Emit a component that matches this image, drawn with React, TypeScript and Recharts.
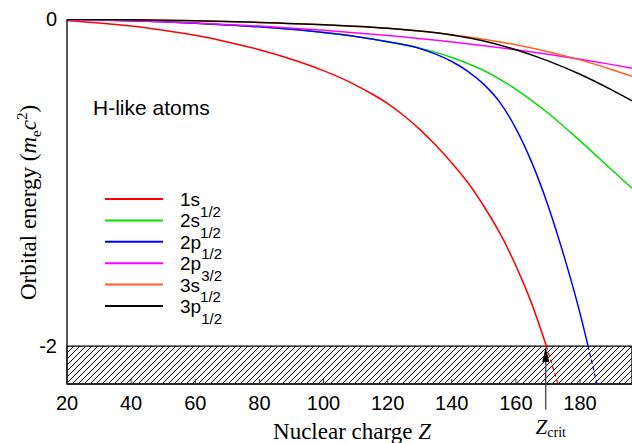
import React from 'react';
import { LineChart, Line, XAxis, YAxis, ReferenceArea, ReferenceLine } from 'recharts';

// ---- axes ----
const zDomain: [number, number] = [20, 196.2];
const eDomain: [number, number] = [-2.232, 0];
const xTicks = [20, 40, 60, 80, 100, 120, 140, 160, 180];
const yTicks = [0, -2];
const continuumEdge = -2;
const zCrit = 169.3;
const arrowTailE = -2.39;

// ---- series ----
const z1s = [20, 30, 40, 50, 60, 70, 80, 90, 100, 110, 115, 120, 125, 130, 135, 140, 145, 150, 155, 160, 165, 169.5];
const e1s = [-0.011, -0.024, -0.043, -0.069, -0.1, -0.14, -0.188, -0.246, -0.316, -0.404, -0.457, -0.517, -0.59, -0.675, -0.772, -0.88, -1.0, -1.145, -1.31, -1.51, -1.745, -2.0];
const z1sTail = [169.5, 173.1];
const e1sTail = [-2.0, -2.232];

const z2s = [20, 30, 40, 50, 60, 70, 80, 90, 100, 110, 120, 130, 140, 150, 160, 170, 180, 190, 196.2];
const e2s = [-0.0027, -0.006, -0.011, -0.017, -0.0256, -0.036, -0.048, -0.063, -0.0825, -0.107, -0.139, -0.178, -0.235, -0.315, -0.43, -0.575, -0.745, -0.925, -1.035];

const z2p1 = [20, 30, 40, 50, 60, 70, 80, 90, 100, 110, 120, 130, 135, 140, 145, 150, 155, 160, 165, 170, 175, 180, 182.5];
const e2p1 = [-0.0027, -0.006, -0.011, -0.017, -0.0256, -0.036, -0.048, -0.063, -0.0825, -0.107, -0.139, -0.18, -0.215, -0.26, -0.32, -0.4, -0.51, -0.67, -0.88, -1.14, -1.45, -1.8, -2.0];
const z2p1Tail = [182.5, 185.3];
const e2p1Tail = [-2.0, -2.232];

const z2p3 = [20, 40, 60, 80, 100, 120, 140, 160, 170, 180, 190, 196.2];
const e2p3 = [-0.0027, -0.0107, -0.0242, -0.0435, -0.0689, -0.1009, -0.1403, -0.188, -0.2156, -0.246, -0.279, -0.301];

const z3s = [20, 40, 60, 80, 100, 120, 130, 140, 150, 160, 170, 180, 190, 196.2];
const e3s = [-0.0012, -0.0048, -0.0112, -0.0209, -0.035, -0.057, -0.074, -0.096, -0.124, -0.158, -0.2, -0.25, -0.31, -0.35];

const z3p = [20, 40, 60, 80, 100, 120, 130, 140, 150, 160, 170, 180, 190, 196.2];
const e3p = [-0.0012, -0.0048, -0.0112, -0.0209, -0.035, -0.057, -0.074, -0.098, -0.135, -0.188, -0.256, -0.338, -0.435, -0.5];

const legendMain = ['1s', '2s', '2p', '2p', '3s', '3p'];
const legendSub = ['1/2', '1/2', '1/2', '3/2', '1/2', '1/2'];
const colors = ['#ff0000', '#00dd00', '#0000ff', '#ff00ff', '#ff6020', '#000000'];

const pts = (z: number[], e: number[]) => z.map((v, i) => ({ z: v, e: e[i] }));

const SANS = "'Liberation Sans', Arial, Helvetica, sans-serif";
const SERIF = "'Liberation Serif', 'Times New Roman', Times, serif";

const mainSeries = [pts(z1s, e1s), pts(z2s, e2s), pts(z2p1, e2p1), pts(z2p3, e2p3), pts(z3s, e3s), pts(z3p, e3p)];

const BottomTick = (props: any) => {
  const { x, y, payload } = props;
  return (
    <g>
      <line x1={x} x2={x} y1={y - 12} y2={y - 17} stroke="#333" strokeWidth={1} />
      <text x={x} y={y} dy="0.71em" textAnchor="middle" fontSize={20} fontFamily={SANS} fill="#000">
        {payload.value}
      </text>
    </g>
  );
};

const TopTick = (props: any) => {
  const { x, y } = props;
  return <line x1={x} x2={x} y1={y} y2={y + 5} stroke="#333" strokeWidth={1} />;
};

const ArrowShape = (props: any) => {
  const { x1, y1, x2, y2 } = props;
  return (
    <g>
      <line x1={x1} y1={y1 + 14} x2={x2} y2={y2} stroke="#444" strokeWidth={1.3} />
      <polygon points={`${x1},${y1 + 1} ${x1 - 3.5},${y1 + 16} ${x1 + 3.5},${y1 + 16}`} fill="#000" />
      <text x={x2 + 5} y={y2 + 24} textAnchor="middle" fontFamily={SERIF} fill="#000">
        <tspan fontStyle="italic" fontSize={21}>Z</tspan>
        <tspan fontSize={14} dy={3}>crit</tspan>
      </text>
    </g>
  );
};

export default function App() {
  return (
    <div style={{ position: 'absolute', left: 0, top: 0, width: 632, height: 443, background: '#fff', overflow: 'hidden' }}>
      <LineChart width={632} height={443} margin={{ top: 19, right: 0, bottom: 0, left: 0 }}>
        <XAxis
          dataKey="z"
          type="number"
          domain={zDomain}
          ticks={xTicks}
          allowDataOverflow
          height={59}
          tickSize={0}
          tickMargin={12}
          tickLine={false}
          tick={<BottomTick />}
          axisLine={{ stroke: '#222', strokeWidth: 1.5 }}
        />
        <XAxis
          xAxisId="top"
          dataKey="z"
          orientation="top"
          type="number"
          domain={zDomain}
          ticks={xTicks}
          allowDataOverflow
          height={0}
          mirror
          tickSize={0}
          tickMargin={0}
          tickLine={false}
          tick={<TopTick />}
          axisLine={{ stroke: '#222', strokeWidth: 1.5 }}
        />
        <YAxis
          type="number"
          domain={eDomain}
          ticks={yTicks}
          allowDataOverflow
          width={67}
          tickSize={0}
          tickMargin={10}
          tickLine={false}
          tick={{ fontSize: 20, fontFamily: SANS, fill: '#000' }}
          axisLine={{ stroke: '#222', strokeWidth: 1.5 }}
        />
        <ReferenceArea
          y1={eDomain[0]}
          y2={continuumEdge}
          fill="url(#hatch)"
          fillOpacity={1}
          stroke="#000"
          strokeWidth={1.3}
          ifOverflow="visible"
        />
        {mainSeries.map((d, i) => (
          <Line
            key={i}
            data={d}
            dataKey="e"
            type="monotone"
            stroke={colors[i]}
            strokeWidth={1.5}
            dot={false}
            activeDot={false}
            isAnimationActive={false}
          />
        ))}
        <Line data={pts(z1sTail, e1sTail)} dataKey="e" type="linear" stroke={colors[0]} strokeWidth={1.3} strokeDasharray="4 3" dot={false} isAnimationActive={false} />
        <Line data={pts(z2p1Tail, e2p1Tail)} dataKey="e" type="linear" stroke={colors[2]} strokeWidth={1.3} strokeDasharray="4 3" dot={false} isAnimationActive={false} />
        <ReferenceLine
          segment={[{ x: zCrit, y: continuumEdge }, { x: zCrit, y: arrowTailE }]}
          ifOverflow="visible"
          shape={ArrowShape}
        />
      </LineChart>
      <svg width={632} height={443} style={{ position: 'absolute', left: 0, top: 0, pointerEvents: 'none' }}>
        <defs>
          <pattern id="hatch" patternUnits="userSpaceOnUse" width="6" height="6">
            <path d="M-1,1 L1,-1 M0,6 L6,0 M5,7 L7,5" stroke="#000" strokeWidth="1" />
          </pattern>
        </defs>
        <text x={93} y={115} fontSize={21} fontFamily={SANS} fill="#000">H-like atoms</text>
        {legendMain.map((m, i) => {
          const cy = 199 + i * 21.4;
          return (
            <g key={i}>
              <line x1={105} x2={163} y1={cy} y2={cy} stroke={colors[i]} strokeWidth={2} />
              <text x={180} y={cy + 7} fontSize={19} fontFamily={SANS} fill="#000">
                {m}
                <tspan fontSize={15} dy={10.5}>{legendSub[i]}</tspan>
              </text>
            </g>
          );
        })}
        <text x={352} y={439} textAnchor="middle" fontSize={23} fontFamily={SERIF} fill="#000">
          Nuclear charge <tspan fontStyle="italic">Z</tspan>
        </text>
        <text transform="rotate(-90)" x={-300} y={36} fontSize={23} fontFamily={SERIF} fill="#000">
          Orbital energy (<tspan fontStyle="italic">m</tspan>
          <tspan fontSize={15} dy={5}>e</tspan>
          <tspan fontStyle="italic" dy={-5}>c</tspan>
          <tspan fontSize={15} dy={-9}>2</tspan>
          <tspan dy={9}>)</tspan>
        </text>
      </svg>
    </div>
  );
}
